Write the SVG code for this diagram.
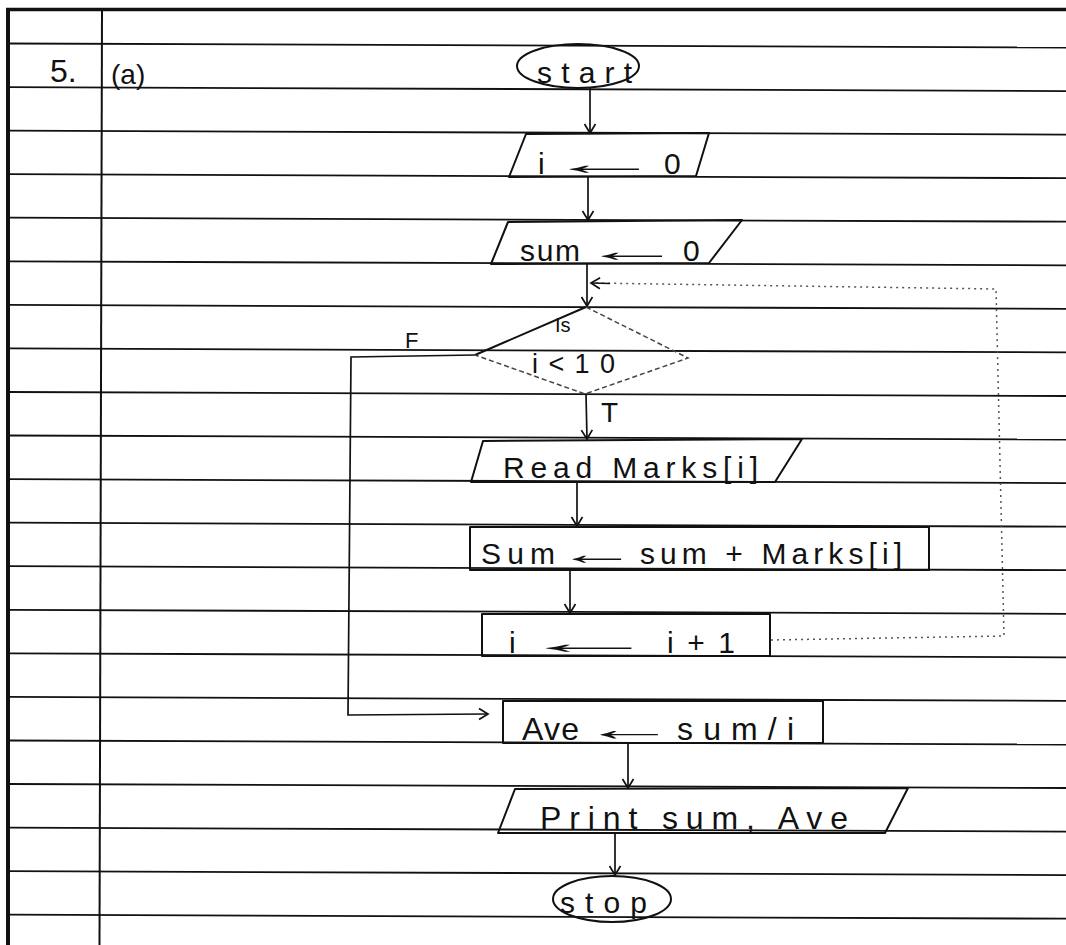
<svg xmlns="http://www.w3.org/2000/svg" width="1066" height="945" viewBox="0 0 1066 945">
<defs>
<style>
.rule{stroke:#111;stroke-width:1.8;fill:none}
.shape{stroke:#111;stroke-width:2;fill:none;stroke-linejoin:round}
.faint{stroke:#444;stroke-width:1.5;fill:none;stroke-dasharray:5 3}
.conn{stroke:#111;stroke-width:1.7;fill:none}
.dot{stroke:#555;stroke-width:1.5;fill:none;stroke-dasharray:2 4}
.hw{font-family:"Liberation Sans","DejaVu Sans",sans-serif;fill:#111}
</style>
<marker id="arr" markerWidth="14" markerHeight="14" refX="11" refY="7" orient="auto" markerUnits="userSpaceOnUse">
<path d="M2,1.5 L11,7 L2,12.5" fill="none" stroke="#111" stroke-width="1.7"/>
</marker>
</defs>
<rect x="0" y="0" width="1066" height="945" fill="#fff"/>
<g id="paper">
<line class="rule" x1="6" y1="9.5" x2="1066" y2="9.5" style="stroke-width:3.5"/>
<line class="rule" x1="8" y1="8" x2="8" y2="945" style="stroke-width:4"/>
<line class="rule" x1="102" y1="10" x2="99.5" y2="945" style="stroke-width:2"/>
<line class="rule" x1="8" y1="43.5" x2="1066" y2="47.5"/>
<line class="rule" x1="8" y1="87.1" x2="1066" y2="91.1"/>
<line class="rule" x1="8" y1="130.6" x2="1066" y2="134.6"/>
<line class="rule" x1="8" y1="174.2" x2="1066" y2="178.2"/>
<line class="rule" x1="8" y1="217.7" x2="1066" y2="221.7"/>
<line class="rule" x1="8" y1="261.3" x2="1066" y2="265.3"/>
<line class="rule" x1="8" y1="304.9" x2="1066" y2="308.9"/>
<line class="rule" x1="8" y1="348.4" x2="1066" y2="352.4"/>
<line class="rule" x1="8" y1="392.0" x2="1066" y2="396.0"/>
<line class="rule" x1="8" y1="435.5" x2="1066" y2="439.5"/>
<line class="rule" x1="8" y1="479.1" x2="1066" y2="483.1"/>
<line class="rule" x1="8" y1="522.7" x2="1066" y2="526.7"/>
<line class="rule" x1="8" y1="566.2" x2="1066" y2="570.2"/>
<line class="rule" x1="8" y1="609.8" x2="1066" y2="613.8"/>
<line class="rule" x1="8" y1="653.3" x2="1066" y2="657.3"/>
<line class="rule" x1="8" y1="696.9" x2="1066" y2="700.9"/>
<line class="rule" x1="8" y1="740.5" x2="1066" y2="744.5"/>
<line class="rule" x1="8" y1="784.0" x2="1066" y2="788.0"/>
<line class="rule" x1="8" y1="827.6" x2="1066" y2="831.6"/>
<line class="rule" x1="8" y1="871.1" x2="1066" y2="875.1"/>
<line class="rule" x1="8" y1="914.7" x2="1066" y2="918.7"/>
<text class="hw" x="50" y="82" font-size="32">5.</text>
<text class="hw" x="111" y="84" font-size="28">(a)</text>
</g>
<g id="connectors">
<path class="conn" d="M590,88 L590,133" marker-end="url(#arr)"/>
<path class="conn" d="M588,177 L588,220" marker-end="url(#arr)"/>
<path class="conn" d="M587,264 L587,306" marker-end="url(#arr)"/>
<path class="conn" d="M586,394 L587,439" marker-end="url(#arr)"/>
<path class="conn" d="M577,482 L577,526" marker-end="url(#arr)"/>
<path class="conn" d="M570,570 L570,613" marker-end="url(#arr)"/>
<path class="conn" d="M475,355 L351,357 L348,715 L488,714" marker-end="url(#arr)"/>
<path class="dot" d="M771,640 L1004,636 L996,289 L592,283"/>
<path class="conn" d="M610,283.5 L591,283" marker-end="url(#arr)"/>
<path class="conn" d="M628,743 L628,788" marker-end="url(#arr)"/>
<path class="conn" d="M615,833 L615,875" marker-end="url(#arr)"/>
<text class="hw" x="405" y="348" font-size="22">F</text>
<text class="hw" x="601" y="422" font-size="28">T</text>
</g>
<g id="start">
<ellipse class="shape" cx="578" cy="66" rx="61" ry="22"/>
<text class="hw" x="537" y="83" font-size="30" textLength="95" lengthAdjust="spacing">start</text>
</g>
<g id="init-i">
<polygon class="shape" points="526,134 709,133 696,176 509,177"/>
<text class="hw" y="174" font-size="30"><tspan x="538">i</tspan> <tspan x="546" textLength="117" lengthAdjust="spacingAndGlyphs">←</tspan> <tspan x="664">0</tspan></text>
</g>
<g id="init-sum">
<polygon class="shape" points="508,222 742,220 709,263 491,264"/>
<text class="hw" y="261" font-size="30"><tspan x="520" textLength="60" lengthAdjust="spacing">sum</tspan> <tspan x="581" textLength="102" lengthAdjust="spacingAndGlyphs">←</tspan> <tspan x="683">0</tspan></text>
</g>
<g id="decision">
<path class="shape" d="M475,355 L586,307"/>
<path class="faint" d="M586,307 L688,358 L585,394 L475,355"/>
<text class="hw" x="555" y="332" font-size="20">Is</text>
<text class="hw" x="532" y="373" font-size="27" textLength="83" lengthAdjust="spacing">i&lt;10</text>
</g>
<g id="read">
<polygon class="shape" points="483,441 802,439 775,482 471,482"/>
<text class="hw" x="503" y="478" font-size="30" textLength="255" lengthAdjust="spacing">Read Marks[i]</text>
</g>
<g id="accumulate">
<rect class="shape" x="470" y="527" width="459" height="43"/>
<text class="hw" y="564" font-size="30"><tspan x="481" textLength="74" lengthAdjust="spacing">Sum</tspan> <tspan x="556" textLength="82" lengthAdjust="spacingAndGlyphs">←</tspan> <tspan x="640" textLength="262" lengthAdjust="spacing">sum + Marks[i]</tspan></text>
</g>
<g id="increment">
<rect class="shape" x="482" y="614" width="288" height="42"/>
<text class="hw" y="653" font-size="30"><tspan x="509">i</tspan> <tspan x="517" textLength="144" lengthAdjust="spacingAndGlyphs">←</tspan> <tspan x="667" textLength="68" lengthAdjust="spacing">i + 1</tspan></text>
</g>
<g id="average">
<rect class="shape" x="503" y="701" width="320" height="42"/>
<text class="hw" y="740" font-size="32"><tspan x="522" textLength="57" lengthAdjust="spacing">Ave</tspan> <tspan x="580" textLength="97" lengthAdjust="spacingAndGlyphs">←</tspan> <tspan x="677" textLength="117" lengthAdjust="spacing">sum/i</tspan></text>
</g>
<g id="print">
<polygon class="shape" points="515,789 908,788 885,833 498,833"/>
<text class="hw" x="540" y="829" font-size="32" textLength="308" lengthAdjust="spacing">Print sum, Ave</text>
</g>
<g id="stop">
<ellipse class="shape" cx="612" cy="899" rx="59" ry="23"/>
<text class="hw" x="560" y="913" font-size="30" textLength="87" lengthAdjust="spacing">stop</text>
</g>
</svg>
